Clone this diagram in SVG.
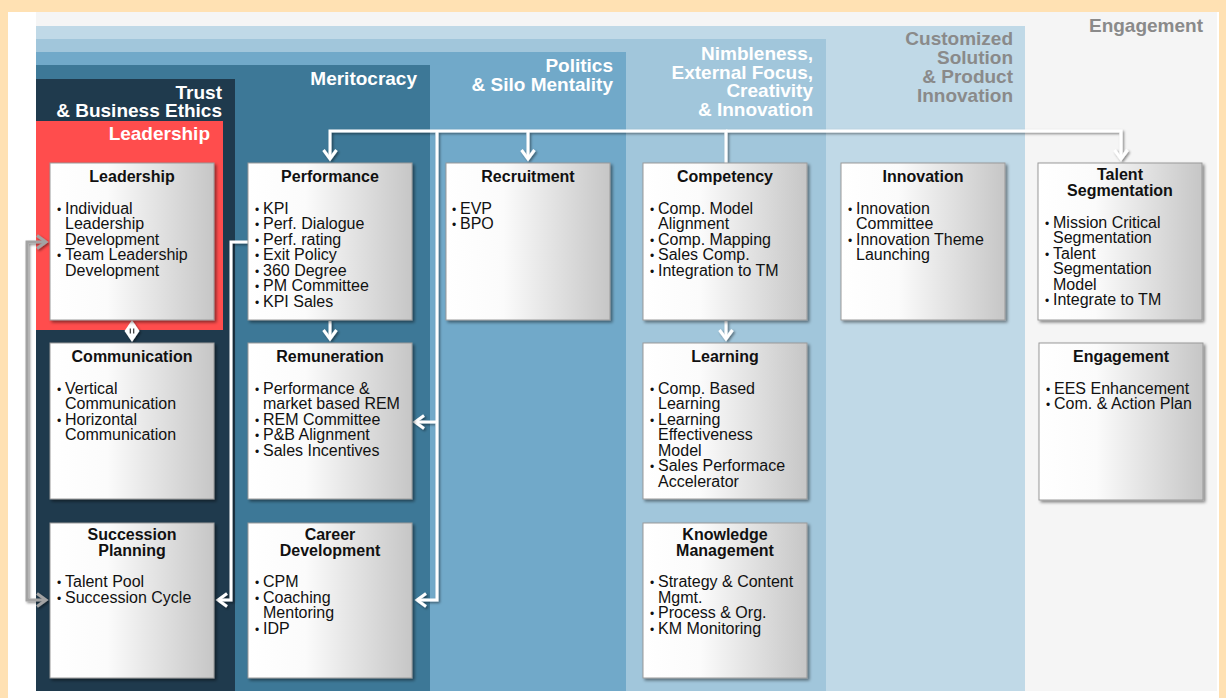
<svg xmlns="http://www.w3.org/2000/svg" width="1226" height="698" viewBox="0 0 1226 698">
<defs>
<style>
.hdr{font-family:"Liberation Sans",Arial,sans-serif;font-weight:bold;font-size:19px;fill:#fff;text-anchor:end}
.hdrg{fill:#8a8a8a}
.tt{font-family:"Liberation Sans",Arial,sans-serif;font-weight:bold;font-size:16px;fill:#111;text-anchor:middle}
.tx{font-family:"Liberation Sans",Arial,sans-serif;font-size:16px;fill:#111}
.bu{font-size:12px}
.box{fill:url(#boxg);stroke:#9a9a9a;stroke-width:1;filter:url(#sh)}
.cw{fill:none;stroke:#fff;stroke-width:3;marker-end:url(#aw)}
.cg{fill:none;stroke:#a3a3a3;stroke-width:3;marker-end:url(#ag)}
</style>
<linearGradient id="boxg" x1="0" y1="0" x2="1" y2="0">
<stop offset="0" stop-color="#ffffff"/>
<stop offset="0.35" stop-color="#fbfbfb"/>
<stop offset="1" stop-color="#c6c6c6"/>
</linearGradient>
<filter id="sh" x="-10%" y="-10%" width="125%" height="125%">
<feDropShadow dx="2" dy="2" stdDeviation="1.6" flood-color="#000" flood-opacity="0.45"/>
</filter>
<filter id="lsh" x="-20%" y="-20%" width="140%" height="140%">
<feDropShadow dx="1.5" dy="1.5" stdDeviation="1" flood-color="#000" flood-opacity="0.45"/>
</filter>
<marker id="aw" markerUnits="userSpaceOnUse" viewBox="-12 -8 14 16" refX="0" refY="0" markerWidth="14" markerHeight="16" orient="auto" overflow="visible">
<path d="M-9,-6.5 L0,0 L-9,6.5" fill="none" stroke="#fff" stroke-width="3"/>
</marker>
<marker id="ag" markerUnits="userSpaceOnUse" viewBox="-12 -8 14 16" refX="0" refY="0" markerWidth="14" markerHeight="16" orient="auto" overflow="visible">
<path d="M-9,-6.5 L0,0 L-9,6.5" fill="none" stroke="#a3a3a3" stroke-width="3"/>
</marker>
</defs>

<rect x="0" y="0" width="1226" height="698" fill="#ffe1b3"/>
<rect x="8" y="12" width="1211" height="686" fill="#ffffff"/>

<g id="layers">
<rect x="36" y="12" width="1181" height="679" fill="#f5f5f5"/>
<rect x="36" y="26" width="989" height="665" fill="#c0d9e7"/>
<rect x="36" y="39" width="790" height="652" fill="#a1c6db"/>
<rect x="36" y="52" width="590" height="639" fill="#71a9c9"/>
<rect x="36" y="65" width="394" height="626" fill="#3d7897"/>
<rect x="36" y="79" width="199" height="612" fill="#1f3a4d"/>
<rect x="36" y="121" width="187" height="209" fill="#ff4d4d"/>
</g>

<g id="headers">
<text class="hdr hdrg" x="1203" y="32">Engagement</text>
<text class="hdr hdrg"><tspan x="1013" y="45">Customized</tspan><tspan x="1013" y="64">Solution</tspan><tspan x="1013" y="83">&amp; Product</tspan><tspan x="1013" y="102">Innovation</tspan></text>
<text class="hdr"><tspan x="813" y="60">Nimbleness,</tspan><tspan x="813" y="78.5">External Focus,</tspan><tspan x="813" y="97">Creativity</tspan><tspan x="813" y="115.5">&amp; Innovation</tspan></text>
<text class="hdr"><tspan x="613" y="72">Politics</tspan><tspan x="613" y="91">&amp; Silo Mentality</tspan></text>
<text class="hdr" x="417" y="85">Meritocracy</text>
<text class="hdr"><tspan x="222" y="99">Trust</tspan><tspan x="222" y="117">&amp; Business Ethics</tspan></text>
<text class="hdr" x="210" y="140">Leadership</text>
</g>

<g id="connectors" filter="url(#lsh)">
<path class="cw" d="M726,163 V131 H330 V159"/>
<path class="cw" d="M726,131 H1121 V159"/>
<path class="cw" d="M528,131 V159"/>
<path class="cw" d="M437,131 V600 H417"/>
<path class="cw" d="M437,422 H415"/>
<path class="cw" d="M330,321 V339"/>
<path class="cw" d="M726,321 V339"/>
<path class="cw" d="M249,242 H231 V600 H218"/>
<path class="cg" d="M27,420 V242 H46"/>
<path class="cg" d="M27,420 V600 H46"/>
<polygon points="132,320 139.5,331 132,342 124.5,331" fill="#fff"/>
<line x1="130.3" y1="328.5" x2="130.3" y2="333.5" stroke="#333" stroke-width="1.2"/>
<line x1="133.7" y1="328.5" x2="133.7" y2="333.5" stroke="#333" stroke-width="1.2"/>
</g>

<g id="n-leadership">
<rect class="box" x="50" y="163" width="164" height="157"/>
<text class="tt" x="132" y="182">Leadership</text>
<text class="tx"><tspan class="bu" x="57" y="213.5">•</tspan><tspan x="65">Individual</tspan><tspan x="65" y="229">Leadership</tspan><tspan x="65" y="244.5">Development</tspan><tspan class="bu" x="57" y="260">•</tspan><tspan x="65">Team Leadership</tspan><tspan x="65" y="275.5">Development</tspan></text>
</g>

<g id="n-performance">
<rect class="box" x="248" y="163" width="164" height="157"/>
<text class="tt" x="330" y="182">Performance</text>
<text class="tx"><tspan class="bu" x="255" y="213.5">•</tspan><tspan x="263">KPI</tspan><tspan class="bu" x="255" y="229">•</tspan><tspan x="263">Perf. Dialogue</tspan><tspan class="bu" x="255" y="244.5">•</tspan><tspan x="263">Perf. rating</tspan><tspan class="bu" x="255" y="260">•</tspan><tspan x="263">Exit Policy</tspan><tspan class="bu" x="255" y="275.5">•</tspan><tspan x="263">360 Degree</tspan><tspan class="bu" x="255" y="291">•</tspan><tspan x="263">PM Committee</tspan><tspan class="bu" x="255" y="306.5">•</tspan><tspan x="263">KPI Sales</tspan></text>
</g>

<g id="n-recruitment">
<rect class="box" x="446" y="163" width="164" height="157"/>
<text class="tt" x="528" y="182">Recruitment</text>
<text class="tx"><tspan class="bu" x="452" y="213.5">•</tspan><tspan x="460">EVP</tspan><tspan class="bu" x="452" y="229">•</tspan><tspan x="460">BPO</tspan></text>
</g>

<g id="n-competency">
<rect class="box" x="643" y="163" width="164" height="157"/>
<text class="tt" x="725" y="182">Competency</text>
<text class="tx"><tspan class="bu" x="650" y="213.5">•</tspan><tspan x="658">Comp. Model</tspan><tspan x="658" y="229">Alignment</tspan><tspan class="bu" x="650" y="244.5">•</tspan><tspan x="658">Comp. Mapping</tspan><tspan class="bu" x="650" y="260">•</tspan><tspan x="658">Sales Comp.</tspan><tspan class="bu" x="650" y="275.5">•</tspan><tspan x="658">Integration to TM</tspan></text>
</g>

<g id="n-innovation">
<rect class="box" x="841" y="163" width="164" height="157"/>
<text class="tt" x="923" y="182">Innovation</text>
<text class="tx"><tspan class="bu" x="848" y="213.5">•</tspan><tspan x="856">Innovation</tspan><tspan x="856" y="229">Committee</tspan><tspan class="bu" x="848" y="244.5">•</tspan><tspan x="856">Innovation Theme</tspan><tspan x="856" y="260">Launching</tspan></text>
</g>

<g id="n-talent">
<rect class="box" x="1038" y="163" width="164" height="157"/>
<text class="tt"><tspan x="1120" y="180">Talent</tspan><tspan x="1120" y="196">Segmentation</tspan></text>
<text class="tx"><tspan class="bu" x="1045" y="227.5">•</tspan><tspan x="1053">Mission Critical</tspan><tspan x="1053" y="243">Segmentation</tspan><tspan class="bu" x="1045" y="258.5">•</tspan><tspan x="1053">Talent</tspan><tspan x="1053" y="274">Segmentation</tspan><tspan x="1053" y="289.5">Model</tspan><tspan class="bu" x="1045" y="305">•</tspan><tspan x="1053">Integrate to TM</tspan></text>
</g>

<g id="n-communication">
<rect class="box" x="50" y="343" width="164" height="156"/>
<text class="tt" x="132" y="362">Communication</text>
<text class="tx"><tspan class="bu" x="57" y="393.5">•</tspan><tspan x="65">Vertical</tspan><tspan x="65" y="409">Communication</tspan><tspan class="bu" x="57" y="424.5">•</tspan><tspan x="65">Horizontal</tspan><tspan x="65" y="440">Communication</tspan></text>
</g>

<g id="n-remuneration">
<rect class="box" x="248" y="343" width="164" height="156"/>
<text class="tt" x="330" y="362">Remuneration</text>
<text class="tx"><tspan class="bu" x="255" y="393.5">•</tspan><tspan x="263">Performance &amp;</tspan><tspan x="263" y="409">market based REM</tspan><tspan class="bu" x="255" y="424.5">•</tspan><tspan x="263">REM Committee</tspan><tspan class="bu" x="255" y="440">•</tspan><tspan x="263">P&amp;B Alignment</tspan><tspan class="bu" x="255" y="455.5">•</tspan><tspan x="263">Sales Incentives</tspan></text>
</g>

<g id="n-learning">
<rect class="box" x="643" y="343" width="164" height="156"/>
<text class="tt" x="725" y="362">Learning</text>
<text class="tx"><tspan class="bu" x="650" y="393.5">•</tspan><tspan x="658">Comp. Based</tspan><tspan x="658" y="409">Learning</tspan><tspan class="bu" x="650" y="424.5">•</tspan><tspan x="658">Learning</tspan><tspan x="658" y="440">Effectiveness</tspan><tspan x="658" y="455.5">Model</tspan><tspan class="bu" x="650" y="471">•</tspan><tspan x="658">Sales Performace</tspan><tspan x="658" y="486.5">Accelerator</tspan></text>
</g>

<g id="n-engagement">
<rect class="box" x="1039" y="343" width="164" height="157"/>
<text class="tt" x="1121" y="362">Engagement</text>
<text class="tx"><tspan class="bu" x="1046" y="393.5">•</tspan><tspan x="1054">EES Enhancement</tspan><tspan class="bu" x="1046" y="409">•</tspan><tspan x="1054">Com. &amp; Action Plan</tspan></text>
</g>

<g id="n-succession">
<rect class="box" x="50" y="523" width="164" height="155"/>
<text class="tt"><tspan x="132" y="540">Succession</tspan><tspan x="132" y="556">Planning</tspan></text>
<text class="tx"><tspan class="bu" x="57" y="587">•</tspan><tspan x="65">Talent Pool</tspan><tspan class="bu" x="57" y="602.5">•</tspan><tspan x="65">Succession Cycle</tspan></text>
</g>

<g id="n-career">
<rect class="box" x="248" y="523" width="164" height="155"/>
<text class="tt"><tspan x="330" y="540">Career</tspan><tspan x="330" y="556">Development</tspan></text>
<text class="tx"><tspan class="bu" x="255" y="587">•</tspan><tspan x="263">CPM</tspan><tspan class="bu" x="255" y="602.5">•</tspan><tspan x="263">Coaching</tspan><tspan x="263" y="618">Mentoring</tspan><tspan class="bu" x="255" y="633.5">•</tspan><tspan x="263">IDP</tspan></text>
</g>

<g id="n-knowledge">
<rect class="box" x="643" y="523" width="164" height="155"/>
<text class="tt"><tspan x="725" y="540">Knowledge</tspan><tspan x="725" y="556">Management</tspan></text>
<text class="tx"><tspan class="bu" x="650" y="587">•</tspan><tspan x="658">Strategy &amp; Content</tspan><tspan x="658" y="602.5">Mgmt.</tspan><tspan class="bu" x="650" y="618">•</tspan><tspan x="658">Process &amp; Org.</tspan><tspan class="bu" x="650" y="633.5">•</tspan><tspan x="658">KM Monitoring</tspan></text>
</g>
</svg>
